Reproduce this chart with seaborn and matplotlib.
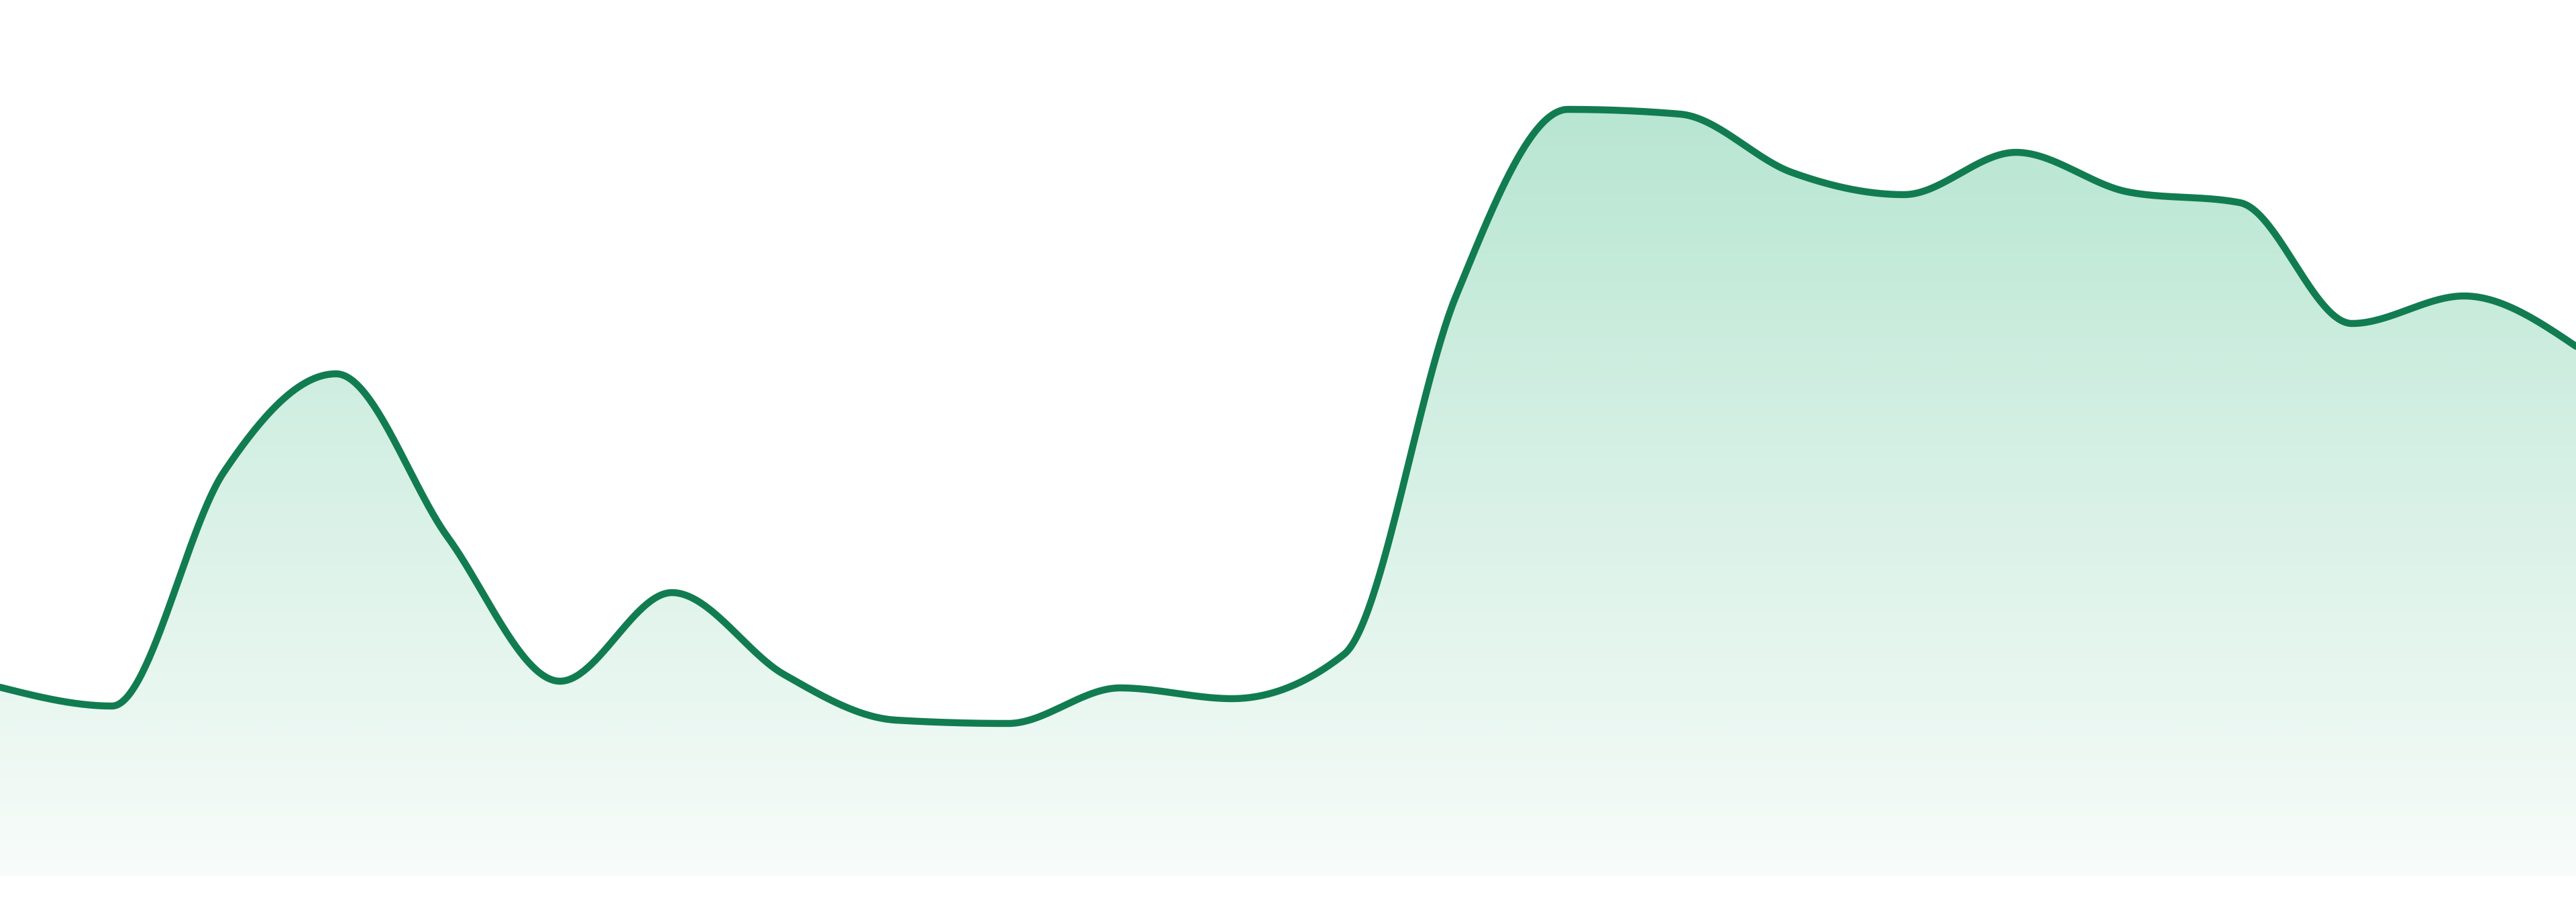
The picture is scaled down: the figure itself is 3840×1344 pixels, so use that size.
import numpy as np
import pandas as pd
import matplotlib
matplotlib.use("Agg")
import matplotlib.pyplot as plt
import seaborn as sns

# knot values (one every ~167 px)
x_idx = list(range(24))
values = [28.1, 25.3, 60.2, 74.8, 50.4, 29.0, 42.2, 30.0, 23.2, 22.7, 28.0, 26.4,
          33.0, 86.4, 114.2, 113.5, 104.8, 101.5, 107.8, 101.9, 100.3, 82.3, 86.4, 78.9]

line_color = "#127c51"
top_rgb = (184, 230, 210)
bottom_rgb = (248, 252, 250)


def monotone_x(x, y, per_seg=60):
    # same smoothing as a monotone cubic (Steffen) curve
    x = np.asarray(x, float)
    y = np.asarray(y, float)
    h = np.diff(x)
    s = np.diff(y) / h
    t = np.zeros_like(y)
    for i in range(1, len(y) - 1):
        p = (s[i - 1] * h[i] + s[i] * h[i - 1]) / (h[i - 1] + h[i])
        t[i] = (np.sign(s[i - 1]) + np.sign(s[i])) * min(abs(s[i - 1]), abs(s[i]), 0.5 * abs(p))
    t[0] = (3 * s[0] - t[1]) / 2
    t[-1] = (3 * s[-1] - t[-2]) / 2
    xx, yy = [], []
    for i in range(len(x) - 1):
        u = np.linspace(0, 1, per_seg, endpoint=(i == len(x) - 2))
        h00 = 2 * u**3 - 3 * u**2 + 1
        h10 = u**3 - 2 * u**2 + u
        h01 = -2 * u**3 + 3 * u**2
        h11 = u**3 - u**2
        xx.append(x[i] + u * h[i])
        yy.append(h00 * y[i] + h10 * h[i] * t[i] + h01 * y[i + 1] + h11 * h[i] * t[i + 1])
    return np.concatenate(xx), np.concatenate(yy)


sx, sy = monotone_x(x_idx, values)
df = pd.DataFrame({"x": sx, "y": sy})

sns.set_style("white")
fig = plt.figure(figsize=(38.4, 13.44), dpi=100)
ax = fig.add_axes([0, 0, 1, 1])

# gradient fill under the curve
poly = ax.fill_between(df["x"], df["y"], 0, color="none", linewidth=0)
ymax = max(values)
n = 256
frac = np.linspace(0, 1, n)[:, None]
grad = np.zeros((n, 1, 3))
for c in range(3):
    grad[:, 0, c] = (bottom_rgb[c] + (top_rgb[c] - bottom_rgb[c]) * frac[:, 0]) / 255
img = ax.imshow(grad, extent=[0, len(values) - 1, 0, ymax], origin="lower",
                aspect="auto", interpolation="bicubic", zorder=1)
img.set_clip_path(poly.get_paths()[0], transform=ax.transData)

sns.lineplot(data=df, x="x", y="y", sort=False, estimator=None, ax=ax,
             color=line_color, linewidth=7.5, zorder=3)
ax.lines[-1].set_solid_capstyle("round")

ax.set_xlim(0, len(values) - 1)
ax.set_ylim(-3.9, 130.5)
ax.axis("off")

fig.savefig("out.png", dpi=100, facecolor="white")
